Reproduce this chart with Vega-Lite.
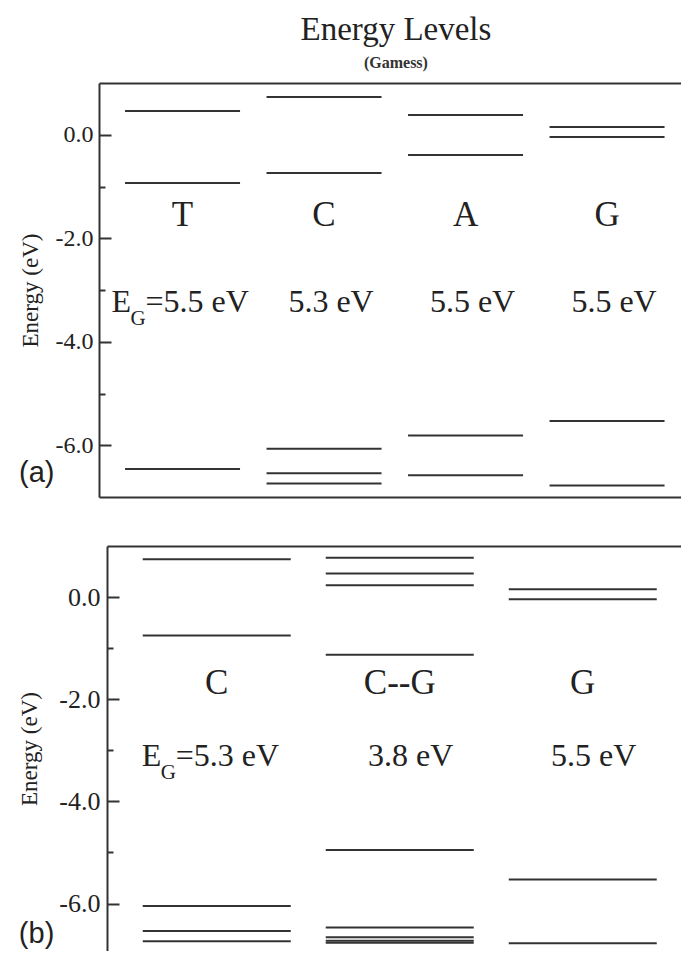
{
  "$schema": "https://vega.github.io/schema/vega-lite/v6.json",
  "padding": {"top": 14, "left": 18, "right": 0, "bottom": 0},
  "autosize": {"type": "pad"},
  "background": "white",
  "config": {"view": {"stroke": null}, "font": "Liberation Serif", "axis": {"labelFont": "Liberation Serif", "titleFont": "Liberation Serif"}},
  "title": {
    "text": "Energy Levels",
    "subtitle": "(Gamess)",
    "font": "Liberation Serif",
    "fontSize": 33,
    "fontWeight": "normal",
    "color": "#222",
    "subtitleFont": "Liberation Serif",
    "subtitleFontSize": 16,
    "subtitleFontWeight": "bold",
    "subtitleColor": "#333",
    "subtitlePadding": 8,
    "anchor": "middle",
    "frame": "bounds",
    "dx": 46,
    "offset": 12
  },
  "datasets": {
    "a_levels": [
      {"base": "T", "energy": 0.46}, {"base": "T", "energy": -0.93}, {"base": "T", "energy": -6.46},
      {"base": "C", "energy": 0.73}, {"base": "C", "energy": -0.74}, {"base": "C", "energy": -6.07}, {"base": "C", "energy": -6.54}, {"base": "C", "energy": -6.74},
      {"base": "A", "energy": 0.38}, {"base": "A", "energy": -0.39}, {"base": "A", "energy": -5.81}, {"base": "A", "energy": -6.58},
      {"base": "G", "energy": 0.15}, {"base": "G", "energy": -0.045}, {"base": "G", "energy": -5.53}, {"base": "G", "energy": -6.78}
    ],
    "a_bases": [
      {"base": "T", "gap": 5.5}, {"base": "C", "gap": 5.3}, {"base": "A", "gap": 5.5}, {"base": "G", "gap": 5.5}
    ],
    "b_levels": [
      {"base": "C", "energy": 0.74}, {"base": "C", "energy": -0.75}, {"base": "C", "energy": -6.05}, {"base": "C", "energy": -6.54}, {"base": "C", "energy": -6.74},
      {"base": "C--G", "energy": 0.77}, {"base": "C--G", "energy": 0.46}, {"base": "C--G", "energy": 0.23}, {"base": "C--G", "energy": -1.13}, {"base": "C--G", "energy": -4.95}, {"base": "C--G", "energy": -6.47}, {"base": "C--G", "energy": -6.66}, {"base": "C--G", "energy": -6.73}, {"base": "C--G", "energy": -6.77},
      {"base": "G", "energy": 0.155}, {"base": "G", "energy": -0.045}, {"base": "G", "energy": -5.53}, {"base": "G", "energy": -6.78}
    ],
    "b_bases": [
      {"base": "C", "gap": 5.3}, {"base": "C--G", "gap": 3.8}, {"base": "G", "gap": 5.5}
    ]
  },
  "concat": [
    {
      "width": 582,
      "height": 414,
      "title": {"text": "(a)", "orient": "bottom", "anchor": "start", "frame": "bounds", "offset": -38, "font": "Liberation Sans", "fontSize": 29, "fontWeight": "normal", "color": "#222"},
      "layer": [
        {
          "data": {"name": "a_levels"},
          "mark": {"type": "tick", "thickness": 2, "size": 115, "color": "#333", "opacity": 1},
          "encoding": {
            "x": {"field": "base", "type": "nominal", "scale": {"type": "band", "domain": ["T", "C", "A", "G"], "paddingInner": 0, "paddingOuter": 0.0565, "align": 0.8},
                  "axis": {"orient": "bottom", "labels": false, "ticks": false, "title": null, "domain": true, "domainColor": "#333", "domainWidth": 2, "grid": false}},
            "y": {"field": "energy", "type": "quantitative", "scale": {"domain": [-7, 1], "nice": false, "zero": false},
                  "axis": {"title": "Energy (eV)", "titleFont": "Liberation Serif", "titleFontSize": 23, "titleFontWeight": "normal", "titleColor": "#222", "titlePadding": 13,
                           "values": [-6, -5, -4, -3, -2, -1, 0],
                           "labelExpr": "abs(datum.value) % 2 < 0.5 ? replace(format(datum.value, '.1f'), '\u2212', '-') : ''",
                           "labelFont": "Liberation Serif", "labelFontSize": 24, "labelColor": "#222", "labelPadding": 18, "labelFlush": false, "labelOverlap": false,
                           "tickSize": {"condition": {"test": "abs(datum.value) % 2 < 0.5", "value": -12}, "value": -6},
                           "tickWidth": 2, "tickColor": "#333", "domainColor": "#333", "domainWidth": 2, "grid": false}}
          }
        },
        {
          "data": {"name": "a_bases"},
          "mark": {"type": "text", "font": "Liberation Serif", "fontSize": 35, "color": "#222", "baseline": "alphabetic"},
          "encoding": {
            "x": {"field": "base", "type": "nominal", "scale": {"type": "band", "domain": ["T", "C", "A", "G"], "paddingInner": 0, "paddingOuter": 0.0565, "align": 0.8},
                  "axis": {"orient": "top", "labels": false, "ticks": false, "title": null, "domain": true, "domainColor": "#333", "domainWidth": 2, "grid": false}},
            "y": {"datum": -1.76, "type": "quantitative"},
            "text": {"field": "base"}
          }
        },
        {
          "data": {"name": "a_bases"},
          "transform": [{"filter": "datum.base !== 'T'"}, {"calculate": "format(datum.gap, '.1f') + ' eV'", "as": "gapText"}],
          "mark": {"type": "text", "font": "Liberation Serif", "fontSize": 32, "color": "#222", "baseline": "alphabetic", "dx": 7},
          "encoding": {
            "x": {"field": "base", "type": "nominal", "scale": {"type": "band", "domain": ["T", "C", "A", "G"], "paddingInner": 0, "paddingOuter": 0.0565, "align": 0.8}, "axis": null},
            "y": {"datum": -3.42, "type": "quantitative"},
            "text": {"field": "gapText"}
          }
        },
        {
          "data": {"name": "a_bases"},
          "transform": [{"filter": "datum.base === 'T'"}],
          "mark": {"type": "text", "font": "Liberation Serif", "fontSize": 32, "color": "#222", "baseline": "alphabetic", "align": "left", "dx": -71},
          "encoding": {
            "x": {"field": "base", "type": "nominal", "scale": {"type": "band", "domain": ["T", "C", "A", "G"], "paddingInner": 0, "paddingOuter": 0.0565, "align": 0.8}, "axis": null},
            "y": {"datum": -3.42, "type": "quantitative"},
            "text": {"value": "E"}
          }
        },
        {
          "data": {"name": "a_bases"},
          "transform": [{"filter": "datum.base === 'T'"}],
          "mark": {"type": "text", "font": "Liberation Serif", "fontSize": 21, "color": "#222", "baseline": "alphabetic", "align": "left", "dx": -52, "dy": 13},
          "encoding": {
            "x": {"field": "base", "type": "nominal", "scale": {"type": "band", "domain": ["T", "C", "A", "G"], "paddingInner": 0, "paddingOuter": 0.0565, "align": 0.8}, "axis": null},
            "y": {"datum": -3.42, "type": "quantitative"},
            "text": {"value": "G"}
          }
        },
        {
          "data": {"name": "a_bases"},
          "transform": [{"filter": "datum.base === 'T'"}, {"calculate": "'=' + format(datum.gap, '.1f') + ' eV'", "as": "gapText"}],
          "mark": {"type": "text", "font": "Liberation Serif", "fontSize": 32, "color": "#222", "baseline": "alphabetic", "align": "left", "dx": -37},
          "encoding": {
            "x": {"field": "base", "type": "nominal", "scale": {"type": "band", "domain": ["T", "C", "A", "G"], "paddingInner": 0, "paddingOuter": 0.0565, "align": 0.8}, "axis": null},
            "y": {"datum": -3.42, "type": "quantitative"},
            "text": {"field": "gapText"}
          }
        }
      ],
      "resolve": {"axis": {"x": "independent"}}
    },
    {
      "width": 582,
      "height": 405,
      "title": {"text": "(b)", "orient": "bottom", "anchor": "start", "frame": "bounds", "offset": -31, "font": "Liberation Sans", "fontSize": 29, "fontWeight": "normal", "color": "#222"},
      "layer": [
        {
          "data": {"name": "b_levels"},
          "mark": {"type": "tick", "thickness": 2, "size": 148, "color": "#333", "opacity": 1},
          "encoding": {
            "x": {"field": "base", "type": "nominal", "scale": {"type": "band", "domain": ["C", "C--G", "G"], "range": [8, 582], "paddingInner": 0, "paddingOuter": 0.0683, "align": 0.73}, "axis": null},
            "y": {"field": "energy", "type": "quantitative", "scale": {"domain": [-6.93, 1], "nice": false, "zero": false},
                  "axis": {"title": "Energy (eV)", "titleFont": "Liberation Serif", "titleFontSize": 23, "titleFontWeight": "normal", "titleColor": "#222", "titlePadding": 17, "offset": -8,
                           "values": [-6, -5, -4, -3, -2, -1, 0],
                           "labelExpr": "abs(datum.value) % 2 < 0.5 ? replace(format(datum.value, '.1f'), '\u2212', '-') : ''",
                           "labelFont": "Liberation Serif", "labelFontSize": 26, "labelColor": "#222", "labelPadding": 19, "labelFlush": false, "labelOverlap": false,
                           "tickSize": {"condition": {"test": "abs(datum.value) % 2 < 0.5", "value": -12}, "value": -6},
                           "tickWidth": 2, "tickColor": "#333", "domainColor": "#333", "domainWidth": 2, "grid": false}}
          }
        },
        {
          "data": {"name": "b_bases"},
          "mark": {"type": "text", "font": "Liberation Serif", "fontSize": 35, "color": "#222", "baseline": "alphabetic"},
          "encoding": {
            "x": {"field": "base", "type": "nominal", "scale": {"type": "band", "domain": ["C", "C--G", "G"], "range": [8, 582], "paddingInner": 0, "paddingOuter": 0.0683, "align": 0.73},
                  "axis": {"orient": "top", "labels": false, "ticks": false, "title": null, "domain": true, "domainColor": "#333", "domainWidth": 2, "grid": false}},
            "y": {"datum": -1.89, "type": "quantitative"},
            "text": {"field": "base"}
          }
        },
        {
          "data": {"name": "b_bases"},
          "transform": [{"filter": "datum.base !== 'C'"}, {"calculate": "format(datum.gap, '.1f') + ' eV'", "as": "gapText"}],
          "mark": {"type": "text", "font": "Liberation Serif", "fontSize": 32, "color": "#222", "baseline": "alphabetic", "dx": 11},
          "encoding": {
            "x": {"field": "base", "type": "nominal", "scale": {"type": "band", "domain": ["C", "C--G", "G"], "range": [8, 582], "paddingInner": 0, "paddingOuter": 0.0683, "align": 0.73}, "axis": null},
            "y": {"datum": -3.30, "type": "quantitative"},
            "text": {"field": "gapText"}
          }
        },
        {
          "data": {"name": "b_bases"},
          "transform": [{"filter": "datum.base === 'C'"}],
          "mark": {"type": "text", "font": "Liberation Serif", "fontSize": 32, "color": "#222", "baseline": "alphabetic", "align": "left", "dx": -75},
          "encoding": {
            "x": {"field": "base", "type": "nominal", "scale": {"type": "band", "domain": ["C", "C--G", "G"], "range": [8, 582], "paddingInner": 0, "paddingOuter": 0.0683, "align": 0.73}, "axis": null},
            "y": {"datum": -3.30, "type": "quantitative"},
            "text": {"value": "E"}
          }
        },
        {
          "data": {"name": "b_bases"},
          "transform": [{"filter": "datum.base === 'C'"}],
          "mark": {"type": "text", "font": "Liberation Serif", "fontSize": 21, "color": "#222", "baseline": "alphabetic", "align": "left", "dx": -56, "dy": 13},
          "encoding": {
            "x": {"field": "base", "type": "nominal", "scale": {"type": "band", "domain": ["C", "C--G", "G"], "range": [8, 582], "paddingInner": 0, "paddingOuter": 0.0683, "align": 0.73}, "axis": null},
            "y": {"datum": -3.30, "type": "quantitative"},
            "text": {"value": "G"}
          }
        },
        {
          "data": {"name": "b_bases"},
          "transform": [{"filter": "datum.base === 'C'"}, {"calculate": "'=' + format(datum.gap, '.1f') + ' eV'", "as": "gapText"}],
          "mark": {"type": "text", "font": "Liberation Serif", "fontSize": 32, "color": "#222", "baseline": "alphabetic", "align": "left", "dx": -41},
          "encoding": {
            "x": {"field": "base", "type": "nominal", "scale": {"type": "band", "domain": ["C", "C--G", "G"], "range": [8, 582], "paddingInner": 0, "paddingOuter": 0.0683, "align": 0.73}, "axis": null},
            "y": {"datum": -3.30, "type": "quantitative"},
            "text": {"field": "gapText"}
          }
        }
      ],
      "resolve": {"axis": {"x": "independent"}}
    }
  ],
  "columns": 1,
  "align": "none",
  "spacing": 49
}
